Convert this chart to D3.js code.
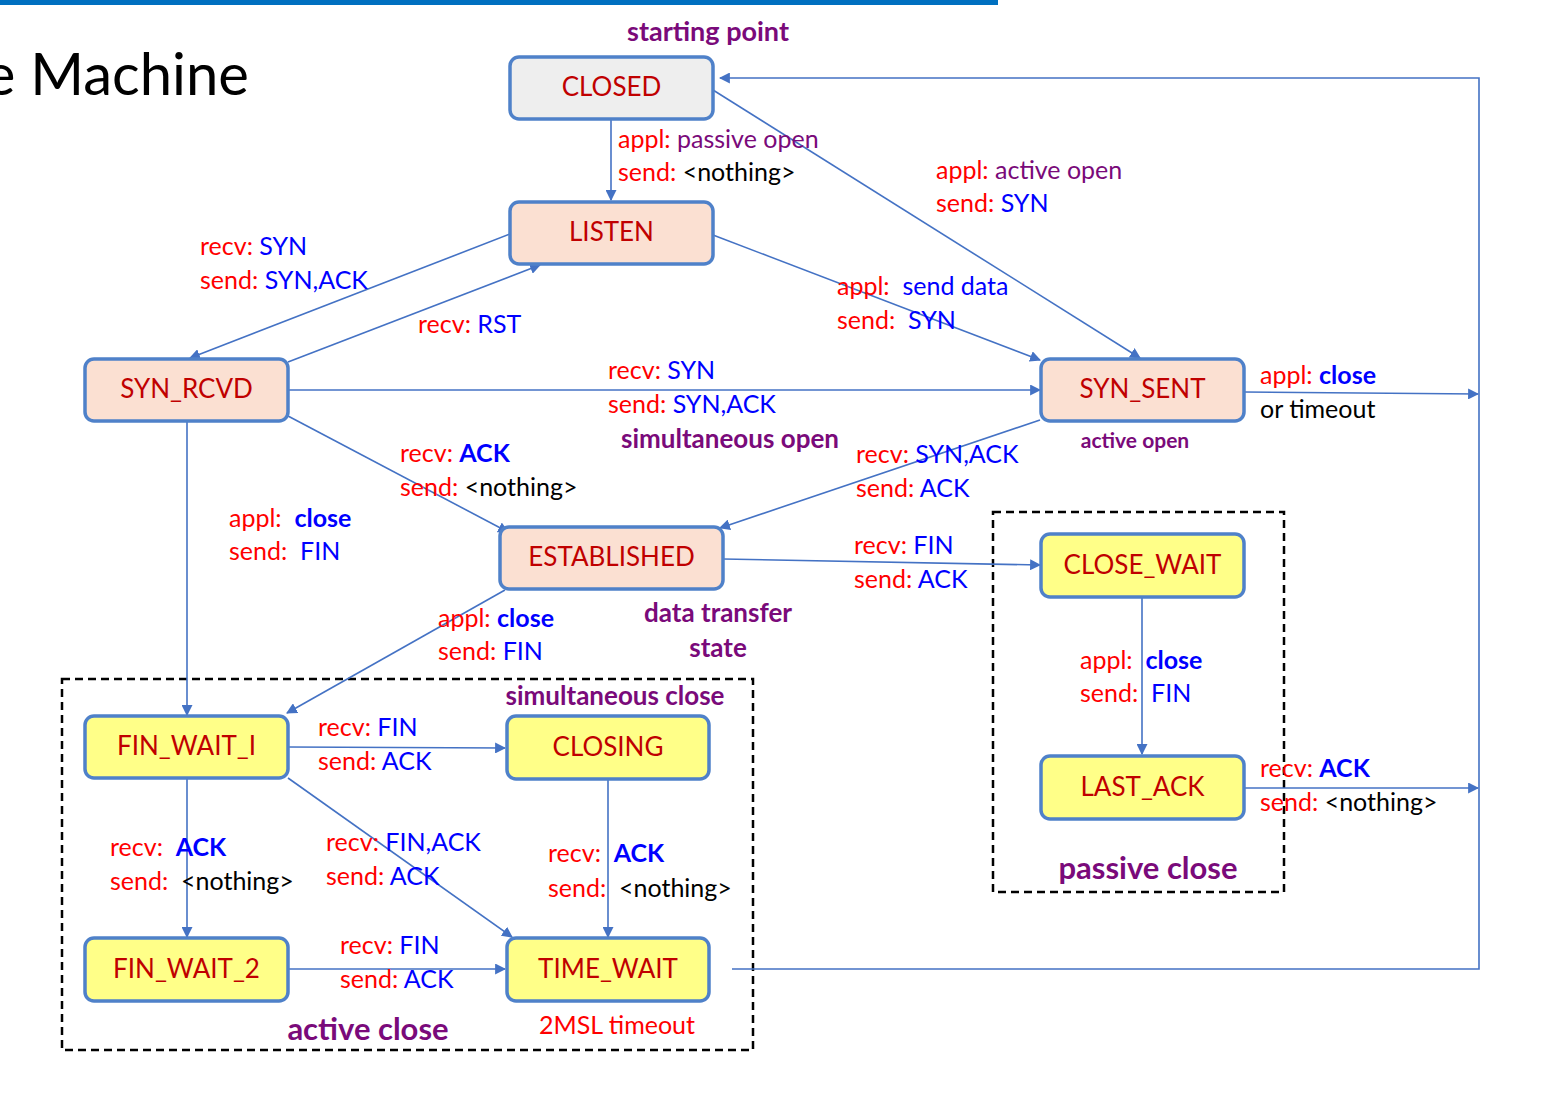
<!DOCTYPE html>
<html><head><meta charset="utf-8">
<script src="https://cdn.jsdelivr.net/npm/d3@7/dist/d3.min.js"></script>
<style>body{margin:0;background:#fff}svg{display:block}</style>
</head><body><svg id="c" width="1546" height="1120"></svg>
<script>
// ---- data ----
const states = ["CLOSED","LISTEN","SYN_RCVD","SYN_SENT","ESTABLISHED","CLOSE_WAIT","LAST_ACK","FIN_WAIT_1","CLOSING","FIN_WAIT_2","TIME_WAIT"];
const stateKind = ["start","open","open","open","open","passive","passive","active","active","active","active"];
const transitions = [
  ["CLOSED","LISTEN"],["CLOSED","SYN_SENT"],["LISTEN","SYN_RCVD"],["SYN_RCVD","LISTEN"],
  ["LISTEN","SYN_SENT"],["SYN_RCVD","SYN_SENT"],["SYN_RCVD","ESTABLISHED"],["SYN_SENT","ESTABLISHED"],
  ["SYN_SENT","CLOSED"],["ESTABLISHED","CLOSE_WAIT"],["SYN_RCVD","FIN_WAIT_1"],["ESTABLISHED","FIN_WAIT_1"],
  ["FIN_WAIT_1","CLOSING"],["FIN_WAIT_1","TIME_WAIT"],["FIN_WAIT_1","FIN_WAIT_2"],["CLOSING","TIME_WAIT"],
  ["FIN_WAIT_2","TIME_WAIT"],["CLOSE_WAIT","LAST_ACK"],["LAST_ACK","CLOSED"],["TIME_WAIT","CLOSED"]
];
const labels = [
  [["appl: ","r"],["passive open","p"]],[["send: ","r"],["<nothing>","k"]],
  [["appl: ","r"],["active open","p"]],[["send: ","r"],["SYN","b"]],
  [["recv: ","r"],["SYN","b"]],[["send: ","r"],["SYN,ACK","b"]],
  [["recv: ","r"],["RST","b"]],
  [["appl:  ","r"],["send data","b"]],[["send:  ","r"],["SYN","b"]],
  [["recv: ","r"],["SYN","b"]],[["send: ","r"],["SYN,ACK","b"]],
  [["appl: ","r"],["close","B"]],[["or timeout","k"]],
  [["recv: ","r"],["ACK","B"]],[["send: ","r"],["<nothing>","k"]],
  [["recv: ","r"],["SYN,ACK","b"]],[["send: ","r"],["ACK","b"]],
  [["appl:  ","r"],["close","B"]],[["send:  ","r"],["FIN","b"]],
  [["recv: ","r"],["FIN","b"]],[["send: ","r"],["ACK","b"]],
  [["appl: ","r"],["close","B"]],[["send: ","r"],["FIN","b"]],
  [["appl:  ","r"],["close","B"]],[["send:  ","r"],["FIN","b"]],
  [["recv: ","r"],["FIN","b"]],[["send: ","r"],["ACK","b"]],
  [["recv: ","r"],["ACK","B"]],[["send: ","r"],["<nothing>","k"]],
  [["recv:  ","r"],["ACK","B"]],[["send:  ","r"],["<nothing>","k"]],
  [["recv: ","r"],["FIN,ACK","b"]],[["send: ","r"],["ACK","b"]],
  [["recv:  ","r"],["ACK","B"]],[["send:  ","r"],["<nothing>","k"]],
  [["recv: ","r"],["FIN","b"]],[["send: ","r"],["ACK","b"]]
];
const notes = ["starting point","simultaneous open","active open","data transfer","state","simultaneous close","passive close","active close","2MSL timeout"];

// ---- layout ----
const box = {
  CLOSED:[510,57,203,62], LISTEN:[510,202,203,62], SYN_RCVD:[85,359,203,62], SYN_SENT:[1041,359,203,62],
  ESTABLISHED:[500,527,223,62], CLOSE_WAIT:[1041,534,203,63], LAST_ACK:[1041,756,203,63],
  FIN_WAIT_1:[85,716,203,62], CLOSING:[507,716,202,63], FIN_WAIT_2:[85,938,203,63], TIME_WAIT:[507,938,202,63]
};
const edgePts = [
  [[611,119],[611,200]],[[713,90],[1140,358]],[[510,234],[190,358]],[[288,362],[540,265]],
  [[713,235],[1040,360]],[[288,390],[1040,390]],[[288,416],[508,532]],[[1040,420],[720,528]],
  [[1244,392],[1478,394]],[[723,559],[1040,565]],[[187,421],[187,715]],[[505,590],[287,713]],
  [[288,747],[505,748]],[[288,778],[512,937]],[[187,778],[187,937]],[[608,779],[608,937]],
  [[288,969],[505,969]],[[1142,597],[1142,754]],[[1244,788],[1478,788]],
  [[732,969],[1479,969],[1479,78],[720,78]]
];
const labelPos = [[618,148],[618,181],[936,179],[936,212],[200,255],[200,289],[418,333],[837,295],[837,329],
  [608,379],[608,413],[1260,384],[1260,418],[400,462],[400,496],[856,463],[856,497],[229,527],[229,560],
  [854,554],[854,588],[438,627],[438,660],[1080,669],[1080,702],[318,736],[318,770],[1260,777],[1260,811],
  [110,856],[110,890],[326,851],[326,885],[548,862],[548,897],[340,954],[340,988]];
const notePos = [[708,41,27,"p"],[730,448,26,"p"],[1135,448,21,"p"],[718,622,26,"p"],[718,657,26,"p"],
  [615,705,26,"p"],[1148,879,31,"p"],[368,1040,31,"p"],[617,1034,25,"r"]];
const fills = {start:"#eeeeee",open:"#fbe0d2",passive:"#ffff88",active:"#ffff88"};
const col = {r:"#ff0000",b:"#0000ff",B:"#0000ff",k:"#000000",p:"#7a0a7a"};
const FONT = "Lato, 'Open Sans', sans-serif";

const svg = d3.select("#c");
svg.append("defs").append("marker").attr("id","ar").attr("viewBox","0 0 10 10").attr("refX",9).attr("refY",5)
  .attr("markerWidth",11).attr("markerHeight",11).attr("markerUnits","userSpaceOnUse").attr("orient","auto")
  .append("path").attr("d","M0,0L10,5L0,10z").attr("fill","#4472c4");

svg.append("rect").attr("x",0).attr("y",0).attr("width",998).attr("height",5).attr("fill","#0070c0");
svg.append("text").attr("x",249).attr("y",95).attr("text-anchor","end").attr("font-family",FONT)
  .attr("font-size",58).attr("fill","#000").text("e Machine");

[[62,679,691,371],[993,512,291,380]].forEach(r=>svg.append("rect").attr("x",r[0]).attr("y",r[1]).attr("width",r[2]).attr("height",r[3])
  .attr("fill","none").attr("stroke","#000").attr("stroke-width",2.5).attr("stroke-dasharray","8,5"));

const line = d3.line();
svg.selectAll("path.e").data(transitions).join("path").attr("class","e")
  .attr("d",(d,i)=>line(edgePts[i])).attr("fill","none").attr("stroke","#4472c4").attr("stroke-width",1.6)
  .attr("marker-end","url(#ar)");

const g = svg.selectAll("g.s").data(states).join("g").attr("class","s");
g.append("rect").attr("x",d=>box[d][0]).attr("y",d=>box[d][1]).attr("width",d=>box[d][2]).attr("height",d=>box[d][3])
  .attr("rx",9).attr("fill",(d,i)=>fills[stateKind[i]]).attr("stroke","#4f81c9").attr("stroke-width",3.5);
g.append("text").attr("x",d=>box[d][0]+box[d][2]/2).attr("y",d=>box[d][1]+box[d][3]/2+8)
  .attr("text-anchor","middle").attr("font-family",FONT).attr("font-size",26).attr("fill","#c00000")
  .text(d=>d.replace("FIN_WAIT_1","FIN_WAIT_I"));

const lt = svg.selectAll("text.l").data(labels).join("text").attr("class","l")
  .attr("x",(d,i)=>labelPos[i][0]).attr("y",(d,i)=>labelPos[i][1]).attr("font-family",FONT).attr("font-size",25)
  .style("white-space","pre").attr("xml:space","preserve");
lt.selectAll("tspan").data(d=>d).join("tspan").text(s=>s[0]).attr("fill",s=>col[s[1]])
  .attr("font-weight",s=>s[1]==="B"?"bold":"normal");

svg.selectAll("text.n").data(notes).join("text").attr("class","n")
  .attr("x",(d,i)=>notePos[i][0]).attr("y",(d,i)=>notePos[i][1]).attr("text-anchor","middle")
  .attr("font-family",FONT).attr("font-size",(d,i)=>notePos[i][2]).attr("fill",(d,i)=>col[notePos[i][3]])
  .attr("font-weight",(d,i)=>notePos[i][3]==="p"?"bold":"normal").text(d=>d);
</script></body></html>
